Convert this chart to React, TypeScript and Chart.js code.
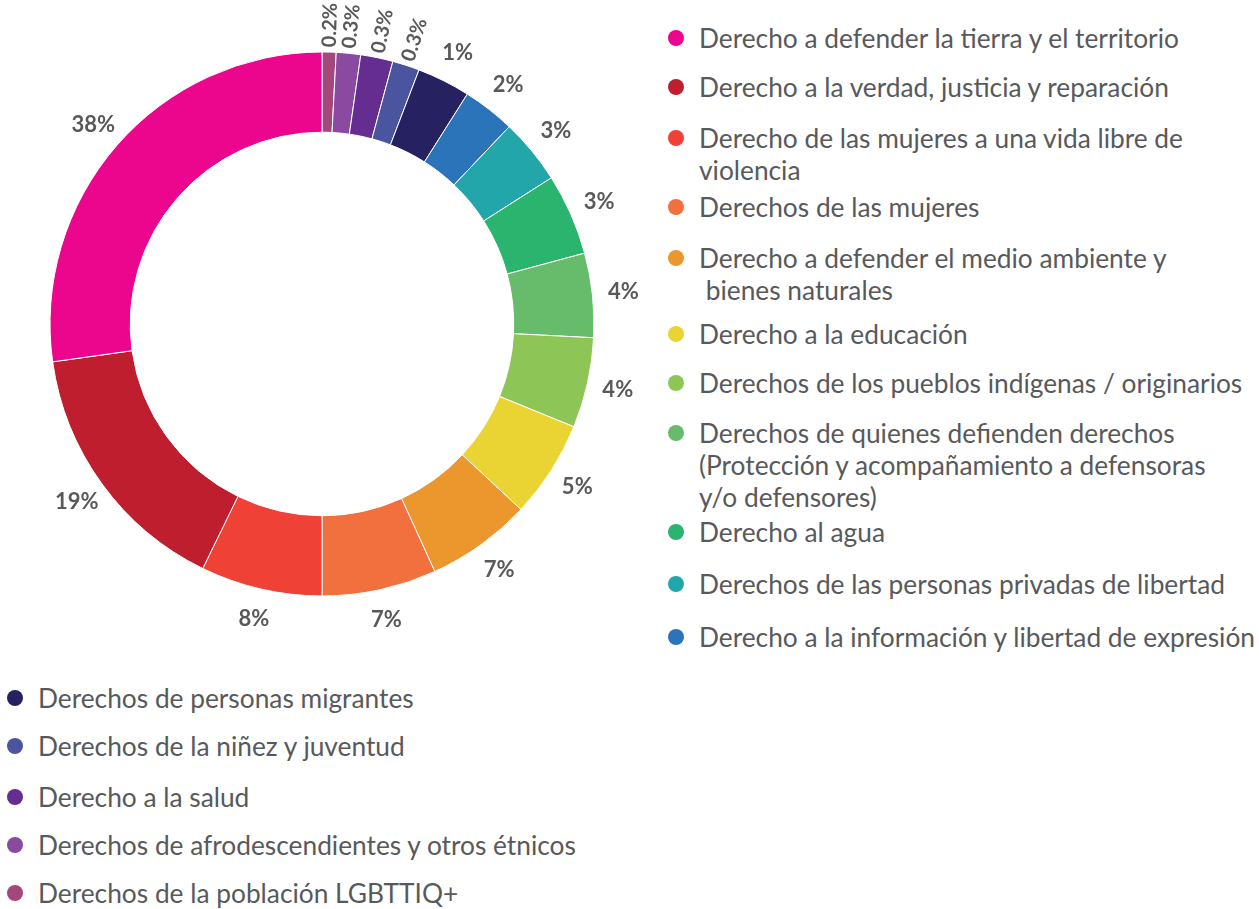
import React, { useEffect, useRef } from "react";
import { Chart, registerables } from "chart.js";

Chart.register(...registerables);

// Categories in legend order
const categories: string[] = [
  "Derecho a defender la tierra y el territorio",
  "Derecho a la verdad, justicia y reparación",
  "Derecho de las mujeres a una vida libre de\nviolencia",
  "Derechos de las mujeres",
  "Derecho a defender el medio ambiente y\n bienes naturales",
  "Derecho a la educación",
  "Derechos de los pueblos indígenas / originarios",
  "Derechos de quienes defienden derechos\n(Protección y acompañamiento a defensoras\ny/o defensores)",
  "Derecho al agua",
  "Derechos de las personas privadas de libertad",
  "Derecho a la información y libertad de expresión",
  "Derechos de personas migrantes",
  "Derechos de la niñez y juventud",
  "Derecho a la salud",
  "Derechos de afrodescendientes y otros étnicos",
  "Derechos de la población LGBTTIQ+",
];

// Visual share of each slice as drawn in the picture (degrees of the ring)
const sliceShares: number[] = [98, 56, 26, 24.5, 22.5, 20.8, 19.3, 18, 17.4, 14, 11.2, 11.4, 5.8, 6.9, 5.2, 3.0];

// Percentage labels printed next to each slice
const percentLabels: number[] = [38, 19, 8, 7, 7, 5, 4, 4, 3, 3, 2, 1, 0.3, 0.3, 0.3, 0.2];

const colors: string[] = [
  "#ec058d",
  "#be1e2d",
  "#ef4136",
  "#f2703d",
  "#ec962e",
  "#ead434",
  "#8dc657",
  "#66bc6a",
  "#2bb46e",
  "#22a6a9",
  "#2b74b9",
  "#262262",
  "#4b559f",
  "#652d90",
  "#8a4a9f",
  "#a4477a",
];

const RIGHT_COUNT = 11;
const rightTops = [38, 87, 138, 207, 258, 334, 383, 433, 532, 584, 637];
const bottomTops = [698, 746, 797, 845, 893];

const TEXT_COLOR = "#58595b";

const labelPlugin = {
  id: "outsideLabels",
  afterDatasetsDraw(chart: any) {
    const ctx = chart.ctx as CanvasRenderingContext2D;
    const meta = chart.getDatasetMeta(0);
    const labels: number[] = chart.data.datasets[0].pctLabels;
    meta.data.forEach((arc: any, i: number) => {
      const { startAngle, endAngle, x, y, outerRadius } = arc.getProps(
        ["startAngle", "endAngle", "x", "y", "outerRadius"],
        true
      );
      const mid = (startAngle + endAngle) / 2;
      const p = labels[i];
      const small = p < 1;
      const r = outerRadius + (small ? 27 : 31);
      const lx = x + Math.cos(mid) * r;
      const ly = y + Math.sin(mid) * r;
      ctx.save();
      ctx.fillStyle = TEXT_COLOR;
      ctx.textAlign = "center";
      ctx.textBaseline = "middle";
      ctx.font = small ? "bold 20px Lato" : "bold 22px Lato";
      ctx.translate(lx, ly);
      if (small) ctx.rotate(mid);
      ctx.fillText(`${p}%`, 0, 0);
      ctx.restore();
    });
  },
};

function LegendItem({ color, text, left, top }: { color: string; text: string; left: number; top: number }) {
  return (
    <div style={{ position: "absolute", left, top: top - 16 }}>
      <span
        style={{
          position: "absolute",
          left: 0,
          top: 16 - 8,
          width: 16,
          height: 16,
          borderRadius: "50%",
          background: color,
        }}
      />
      <div
        style={{
          position: "absolute",
          left: 31,
          top: 0,
          whiteSpace: "pre",
          fontFamily: "Lato, 'Noto Sans', sans-serif",
          fontSize: 26.3,
          lineHeight: "32px",
          color: TEXT_COLOR,
        }}
      >
        {text}
      </div>
    </div>
  );
}

export default function App() {
  const canvasRef = useRef<HTMLCanvasElement | null>(null);

  useEffect(() => {
    if (!canvasRef.current) return;
    const order = categories.map((_, i) => i).reverse();
    const chart = new Chart(canvasRef.current, {
      type: "doughnut",
      data: {
        labels: order.map((i) => categories[i]),
        datasets: [
          {
            data: order.map((i) => sliceShares[i]),
            backgroundColor: order.map((i) => colors[i]),
            borderColor: "#ffffff",
            borderWidth: 1,
            pctLabels: order.map((i) => percentLabels[i]),
          } as any,
        ],
      },
      options: {
        responsive: false,
        animation: false,
        devicePixelRatio: 1,
        radius: 272,
        cutout: "70.5%",
        rotation: 0,
        layout: { padding: 0 },
        plugins: {
          legend: { display: false },
          tooltip: { enabled: false },
        },
        events: [],
      } as any,
      plugins: [labelPlugin],
    });
    if ((document as any).fonts && (document as any).fonts.load) {
      Promise.all([
        (document as any).fonts.load("bold 22px Lato"),
        (document as any).fonts.load("bold 20px Lato"),
      ]).then(() => chart.update()).catch(() => {});
    }
    return () => chart.destroy();
  }, []);

  return (
    <div style={{ position: "absolute", left: 0, top: 0, width: 1259, height: 909, overflow: "hidden", background: "#fff" }}>
      <canvas ref={canvasRef} width={644} height={648} style={{ position: "absolute", left: 0, top: 0 }} />
      {categories.slice(0, RIGHT_COUNT).map((c, i) => (
        <LegendItem key={c} color={colors[i]} text={c} left={668} top={rightTops[i]} />
      ))}
      {categories.slice(RIGHT_COUNT).map((c, i) => (
        <LegendItem key={c} color={colors[RIGHT_COUNT + i]} text={c} left={7} top={bottomTops[i]} />
      ))}
    </div>
  );
}
